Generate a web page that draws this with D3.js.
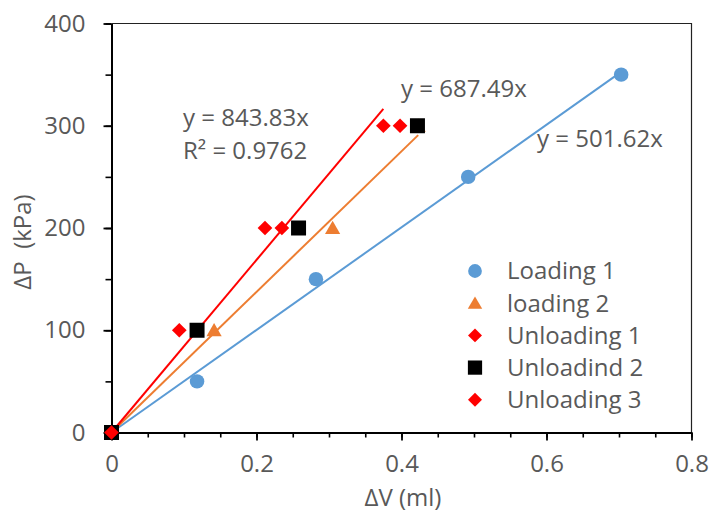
<!DOCTYPE html>
<html>
<head>
<meta charset="utf-8">
<script src="https://cdn.jsdelivr.net/npm/d3@7/dist/d3.min.js"></script>
<style>
  html, body { margin: 0; padding: 0; background: #fff; }
  svg { display: block; font-family: "Open Sans", sans-serif; }
  .tick text { fill: #595959; }
</style>
</head>
<body>
<svg id="chart" width="711" height="518"></svg>
<script>
// Pressure change vs volume change, loading and unloading runs
const seriesNames = ["Loading 1", "loading 2", "Unloading 1", "Unloadind 2", "Unloading 3"];
const loading1X = [0, 0.118, 0.282, 0.492, 0.703];
const loading1Y = [0, 50, 150, 250, 350];
const loading2X = [0, 0.1415, 0.305, 0.423];
const loading2Y = [0, 100, 200, 300];
const unloading1X = [0, 0.0935, 0.2117, 0.375];
const unloading1Y = [0, 100, 200, 300];
const unloading2X = [0, 0.118, 0.258, 0.422];
const unloading2Y = [0, 100, 200, 300];
const unloading3X = [0, 0.235, 0.398];
const unloading3Y = [0, 200, 300];

// Linear fits through the origin (slope, x-range end)
const trendSlopes = [501.62, 687.49, 843.83];
const trendXMax = [0.703, 0.423, 0.375];
const trendLabels = ["y = 501.62x", "y = 687.49x", "y = 843.83x"];
const r2Label = "R² = 0.9762";

const xTicks = [0, 0.2, 0.4, 0.6, 0.8];
const yTicks = [0, 100, 200, 300, 400];

const colors = ["#5B9BD5", "#ED7D31", "#FF0000", "#000000", "#FF0000"];
const symbols = [d3.symbolCircle, d3.symbolTriangle, d3.symbolSquare, d3.symbolSquare, d3.symbolSquare];
const symbolSizes = [165, 100, 108, 225, 108];
const symbolRotate = [0, 0, 45, 0, 45];
const symbolShift = [0, 1.5, 0, 0, 0];

const series = seriesNames.map((name, i) => {
  const xs = [loading1X, loading2X, unloading1X, unloading2X, unloading3X][i];
  const ys = [loading1Y, loading2Y, unloading1Y, unloading2Y, unloading3Y][i];
  return { name, color: colors[i], symbol: symbols[i], points: xs.map((x, j) => ({ x, y: ys[j] })) };
});

const svg = d3.select("#chart");
const plotLeft = 111.5, plotRight = 691.5, plotTop = 23.5, plotBottom = 432.5;

const x = d3.scaleLinear().domain([0, 0.8]).range([plotLeft, plotRight]);
const y = d3.scaleLinear().domain([0, 400]).range([plotBottom, plotTop]);

// plot frame (top and right)
svg.append("path")
  .attr("d", `M${plotLeft},${plotTop}H${plotRight}V${plotBottom}`)
  .attr("fill", "none").attr("stroke", "#222").attr("stroke-width", 1.2);

// minor ticks
svg.append("g").attr("transform", `translate(0,${plotBottom})`)
  .call(d3.axisBottom(x).tickValues(d3.range(0, 0.8001, 0.05)).tickSize(5).tickFormat(""))
  .call(g => g.select(".domain").remove())
  .selectAll("line").attr("stroke", "#000").attr("stroke-width", 1.6);
svg.append("g").attr("transform", `translate(${plotLeft},0)`)
  .call(d3.axisLeft(y).tickValues(d3.range(0, 401, 50)).tickSize(6).tickFormat(""))
  .call(g => g.select(".domain").remove())
  .selectAll("line").attr("stroke", "#000").attr("stroke-width", 1.6);

// major axes
const xAxis = svg.append("g").attr("transform", `translate(0,${plotBottom})`)
  .call(d3.axisBottom(x).tickValues(xTicks).tickSize(8).tickSizeOuter(0).tickPadding(14)
    .tickFormat(d => d === 0 ? "0" : d3.format(".1f")(d)));
xAxis.select(".domain").attr("stroke", "#000").attr("stroke-width", 2);
xAxis.selectAll(".tick line").attr("stroke", "#000").attr("stroke-width", 1.8);
xAxis.selectAll(".tick text").attr("font-size", 24).attr("font-family", "Open Sans");

const yAxis = svg.append("g").attr("transform", `translate(${plotLeft},0)`)
  .call(d3.axisLeft(y).tickValues(yTicks).tickSize(8).tickSizeOuter(0).tickPadding(18));
yAxis.select(".domain").attr("stroke", "#000").attr("stroke-width", 2);
yAxis.selectAll(".tick line").attr("stroke", "#000").attr("stroke-width", 1.8);
yAxis.selectAll(".tick text").attr("font-size", 24).attr("font-family", "Open Sans");

// trend lines
const line = d3.line().x(d => x(d.x)).y(d => y(d.y));
trendSlopes.forEach((m, i) => {
  svg.append("path")
    .attr("d", line([{ x: 0, y: 0 }, { x: trendXMax[i], y: m * trendXMax[i] }]))
    .attr("fill", "none").attr("stroke", colors[i]).attr("stroke-width", 2);
});

// markers
series.forEach((s, i) => {
  svg.append("g").selectAll("path").data(s.points).join("path")
    .attr("transform", d => `translate(${x(d.x)},${y(d.y) + symbolShift[i]}) rotate(${symbolRotate[i]})`)
    .attr("d", d3.symbol().type(s.symbol).size(symbolSizes[i]))
    .attr("fill", s.color);
});

// trend equations
const labelStyle = sel => sel.attr("font-size", 24).attr("fill", "#595959").attr("font-family", "Open Sans");
svg.append("text").attr("x", 537).attr("y", 147).text(trendLabels[0]).call(labelStyle);
svg.append("text").attr("x", 401).attr("y", 97).text(trendLabels[1]).call(labelStyle);
svg.append("text").attr("x", 183).attr("y", 126).text(trendLabels[2]).call(labelStyle);
svg.append("text").attr("x", 183).attr("y", 159).text(r2Label).call(labelStyle);

// legend
const legend = svg.append("g");
series.forEach((s, i) => {
  const cy = 271 + i * 32.2;
  legend.append("path")
    .attr("transform", `translate(475,${cy + symbolShift[i]}) rotate(${symbolRotate[i]})`)
    .attr("d", d3.symbol().type(s.symbol).size(symbolSizes[i] * 0.9))
    .attr("fill", s.color);
  legend.append("text").attr("x", 507).attr("y", cy).attr("dy", "0.35em")
    .text(s.name).call(labelStyle);
});

// axis titles
svg.append("text").attr("x", 403).attr("y", 498).attr("dy", "0.35em")
  .attr("text-anchor", "middle").text("ΔV (ml)").call(labelStyle);
svg.append("text").attr("transform", "translate(23,242) rotate(-90)").attr("dy", "0.35em")
  .attr("text-anchor", "middle").style("white-space", "pre").text("ΔP  (kPa)").call(labelStyle);
</script>
</body>
</html>
